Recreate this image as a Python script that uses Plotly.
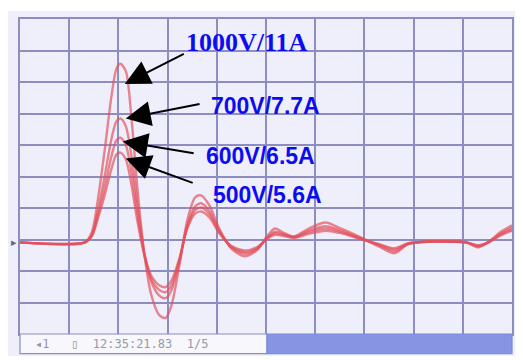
import plotly.graph_objects as go

# time axis in divisions (shared by all traces)
t_div = [0, 1.32, 1.46, 1.58, 1.72, 1.86, 1.96, 2.04, 2.15, 2.27, 2.39, 2.53, 2.67, 2.83, 2.96,
         3.08, 3.24, 3.40, 3.56, 3.68, 3.85, 4.05, 4.29, 4.57, 4.82, 5.02, 5.18, 5.34, 5.57,
         5.87, 6.21, 6.52, 6.88, 7.29, 7.61, 7.89, 8.30, 8.81, 9.07, 9.31, 9.51, 9.76, 10]

# current waveforms in vertical divisions
i_1000v = [-2.09, -2.09, -1.77, -0.76, 0.82, 2.56, 3.42, 3.58, 3.35, 1.77, -0.44, -2.50, -3.77, -4.40, -4.49,
           -4.08, -2.82, -1.39, -0.66, -0.60, -0.92, -1.65, -2.28, -2.53, -2.34, -1.90, -1.65, -1.77, -1.90,
           -1.65, -1.46, -1.65, -1.90, -2.22, -2.44, -2.15, -2.06, -2.06, -2.09, -2.25, -2.09, -1.77, -1.55]
i_700v = [-2.09, -2.09, -1.85, -1.10, 0.00, 1.20, 1.75, 1.84, 1.60, 0.60, -0.90, -2.45, -3.35, -3.78, -3.86,
          -3.60, -2.70, -1.55, -0.95, -0.85, -1.10, -1.72, -2.24, -2.45, -2.30, -1.95, -1.75, -1.82, -1.92,
          -1.72, -1.58, -1.72, -1.93, -2.18, -2.38, -2.14, -2.07, -2.07, -2.09, -2.22, -2.10, -1.82, -1.62]
i_600v = [-2.09, -2.09, -1.88, -1.25, -0.35, 0.65, 1.15, 1.23, 1.00, 0.10, -1.20, -2.50, -3.25, -3.60, -3.67,
          -3.45, -2.65, -1.60, -1.07, -0.98, -1.20, -1.76, -2.22, -2.40, -2.27, -1.97, -1.80, -1.85, -1.93,
          -1.77, -1.65, -1.76, -1.95, -2.16, -2.32, -2.13, -2.07, -2.07, -2.09, -2.20, -2.10, -1.85, -1.68]
i_500v = [-2.09, -2.09, -1.90, -1.35, -0.60, 0.25, 0.70, 0.76, 0.55, -0.30, -1.45, -2.50, -3.15, -3.45, -3.51,
          -3.30, -2.60, -1.65, -1.18, -1.11, -1.30, -1.80, -2.20, -2.35, -2.24, -1.98, -1.85, -1.88, -1.95,
          -1.82, -1.72, -1.80, -1.97, -2.14, -2.28, -2.12, -2.07, -2.07, -2.09, -2.18, -2.10, -1.88, -1.72]

labels = ["1000V/11A", "700V/7.7A", "600V/6.5A", "500V/5.6A"]
status_text = "\u25c21   \u25af  12:35:21.83  1/5"

fig = go.Figure()
for ys in [i_1000v, i_700v, i_600v, i_500v]:
    fig.add_trace(go.Scatter(x=t_div, y=ys, mode="lines",
                             line=dict(color="rgba(226,80,92,0.68)", width=2.4, shape="spline", smoothing=0.8),
                             showlegend=False, hoverinfo="skip"))

grid = "#8d8dc2"
fig.update_xaxes(range=[0, 10], dtick=1, showgrid=True, gridcolor=grid, gridwidth=1.5,
                 showticklabels=False, ticks="", zeroline=False,
                 showline=True, linecolor=grid, linewidth=1.5, mirror=True)
fig.update_yaxes(range=[-5, 5], dtick=1, showgrid=True, gridcolor=grid, gridwidth=1.5,
                 showticklabels=False, ticks="", zeroline=False,
                 showline=True, linecolor=grid, linewidth=1.5, mirror=True)

shapes = [
    # outer lavender panel
    dict(type="rect", xref="paper", yref="paper", x0=-0.0243, x1=1.0121, y0=-0.0696, y1=1.0253,
         fillcolor="#eeeffa", line=dict(width=0), layer="below"),
    # status bar left (white) and right (blue)
    dict(type="rect", xref="paper", yref="paper", x0=0, x1=0.502, y0=-0.062, y1=0,
         fillcolor="#f7f7fc", line=dict(color=grid, width=1.2), layer="above"),
    dict(type="rect", xref="paper", yref="paper", x0=0.502, x1=1.0, y0=-0.062, y1=0,
         fillcolor="#8695e3", line=dict(color="#7d8bd8", width=1.2), layer="above"),
]

annotations = []
# label texts
text_pos = [(3.34, 4.24), (3.85, 2.25), (3.74, 0.66), (3.89, -0.60)]
fams = ["Liberation Serif, Times New Roman, serif", "Liberation Sans, Arial, sans-serif",
        "Liberation Sans, Arial, sans-serif", "Liberation Sans, Arial, sans-serif"]
sizes = [26, 23, 23, 23]
for lab, (tx, ty), fam, sz in zip(labels, text_pos, fams, sizes):
    annotations.append(dict(x=tx, y=ty, xref="x", yref="y", text="<b>" + lab + "</b>", showarrow=False,
                            xanchor="left", yanchor="middle",
                            font=dict(family=fam, size=sz, color="#0c0cf2")))
# arrows (tip, tail)
arrows = [((2.13, 2.94), (3.36, 3.92)), ((2.15, 1.84), (3.68, 2.31)),
          ((2.09, 1.11), (3.56, 0.73)), ((2.15, 0.57), (3.54, -0.22))]
for (hx, hy), (tx, ty) in arrows:
    annotations.append(dict(x=hx, y=hy, ax=tx, ay=ty, xref="x", yref="y", axref="x", ayref="y",
                            text="", showarrow=True, arrowhead=2, arrowsize=2.5, arrowwidth=2,
                            arrowcolor="black"))
# status text
annotations.append(dict(x=0.026, y=-0.032, xref="paper", yref="paper", text=status_text, showarrow=False,
                        xanchor="left", yanchor="middle",
                        font=dict(family="DejaVu Sans Mono, monospace", size=12, color="#9898a8")))
# ground marker
annotations.append(dict(x=-0.012, y=0.291, xref="paper", yref="paper", text="\u25b8", showarrow=False,
                        xanchor="center", yanchor="middle",
                        font=dict(family="DejaVu Sans", size=11, color="#6a6a7a")))

# page body adds an 8px margin, so the figure is sized and offset to compensate
fig.update_layout(width=515, height=352, margin=dict(l=12, r=9, t=10, b=26),
                  paper_bgcolor="white", plot_bgcolor="#eeeffa",
                  shapes=shapes, annotations=annotations)

fig.write_html("out.html")
